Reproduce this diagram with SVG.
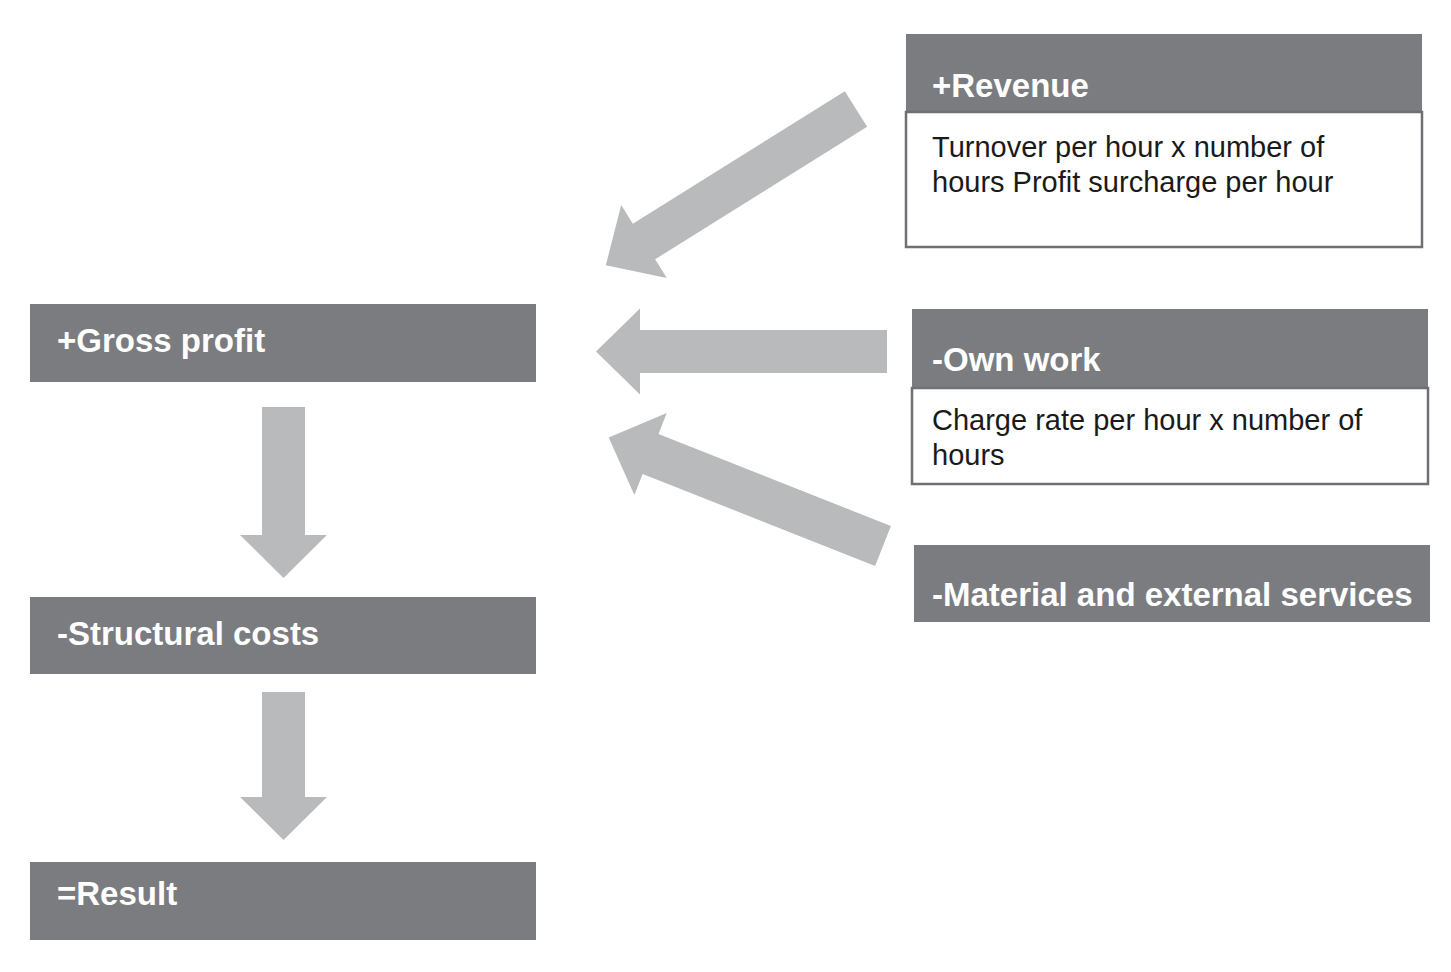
<svg xmlns="http://www.w3.org/2000/svg" width="1451" height="972" viewBox="0 0 1451 972">
<style>
.hdr{fill:#7b7c80}
.body{fill:#ffffff;stroke:#6f7074;stroke-width:2.5}
.arr{fill:#b9babc}
.ht{font-family:"Liberation Sans",Arial,sans-serif;font-weight:bold;font-size:33px;fill:#ffffff}
.bt{font-family:"Liberation Sans",Arial,sans-serif;font-size:29px;fill:#1a1a1a}
</style>
<rect width="1451" height="972" fill="#ffffff"/>
<g id="connectors">
<polygon class="arr" transform="translate(856,109) rotate(148)" points="0,-21 250,-21 250,-43 295,0 250,43 250,21 0,21"/>
<polygon class="arr" transform="translate(887,351.5) rotate(180)" points="0,-21.5 247,-21.5 247,-43 291,0 247,43 247,21.5 0,21.5"/>
<polygon class="arr" transform="translate(883,546) rotate(201.6)" points="0,-21.5 250,-21.5 250,-44 295,0 250,44 250,21.5 0,21.5"/>
<polygon class="arr" transform="translate(283.5,407) rotate(90)" points="0,-21.5 128,-21.5 128,-43.5 171,0 128,43.5 128,21.5 0,21.5"/>
<polygon class="arr" transform="translate(283.5,692) rotate(90)" points="0,-21.5 105,-21.5 105,-43.5 148,0 105,43.5 105,21.5 0,21.5"/>
</g>
<g id="revenue">
<rect class="hdr" x="906" y="34" width="516" height="78"/>
<rect class="body" x="906" y="112" width="516" height="135"/>
<text class="ht" x="932" y="97">+Revenue</text>
<text class="bt" x="932" y="157">Turnover per hour x number of</text>
<text class="bt" x="932" y="192">hours Profit surcharge per hour</text>
</g>
<g id="own-work">
<rect class="hdr" x="912" y="309" width="516" height="79"/>
<rect class="body" x="912" y="388" width="516" height="96"/>
<text class="ht" x="932" y="371">-Own work</text>
<text class="bt" x="932" y="430">Charge rate per hour x number of</text>
<text class="bt" x="932" y="465">hours</text>
</g>
<g id="material">
<rect class="hdr" x="914" y="545" width="516" height="77"/>
<text class="ht" x="932" y="606">-Material and external services</text>
</g>
<g id="gross-profit">
<rect class="hdr" x="30" y="304" width="506" height="78"/>
<text class="ht" x="57" y="352">+Gross profit</text>
</g>
<g id="structural-costs">
<rect class="hdr" x="30" y="597" width="506" height="77"/>
<text class="ht" x="57" y="645">-Structural costs</text>
</g>
<g id="result">
<rect class="hdr" x="30" y="862" width="506" height="78"/>
<text class="ht" x="57" y="905">=Result</text>
</g>
</svg>
